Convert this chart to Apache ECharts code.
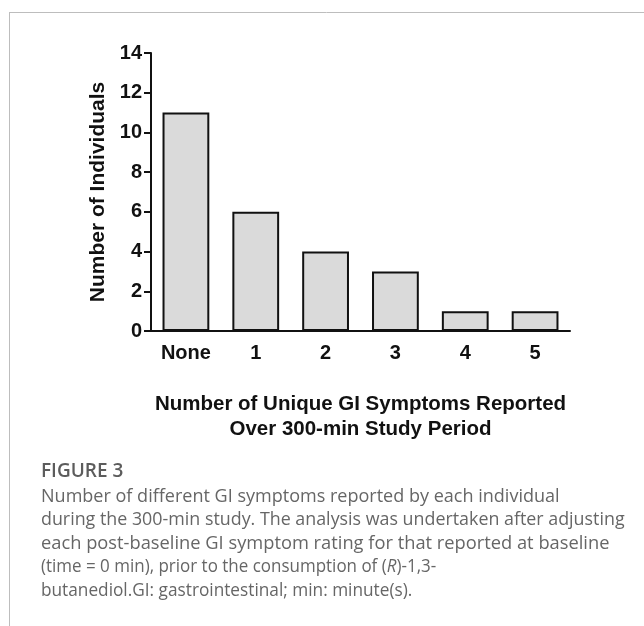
<!DOCTYPE html>
<html>
<head>
<meta charset="utf-8">
<style>
  html, body { margin: 0; padding: 0; background: #fff; }
  #chart { width: 644px; height: 626px; }
</style>
<script src="https://cdn.jsdelivr.net/npm/echarts@6/dist/echarts.min.js"></script>
</head>
<body>
<div id="chart"></div>
<script>
// Number of unique GI symptoms per participant
var categories = ['None', '1', '2', '3', '4', '5'];
var individuals = [11, 6, 4, 3, 1, 1];
var yTicks = [0, 2, 4, 6, 8, 10, 12, 14];

var captionTitle = 'FIGURE 3';
var captionLines = [
  'Number of different GI symptoms reported by each individual',
  'during the 300-min study. The analysis was undertaken after adjusting',
  'each post-baseline GI symptom rating for that reported at baseline',
  '(time = 0 min), prior to the consumption of ({i|R})-1,3-',
  'butanediol.GI: gastrointestinal; min: minute(s).'
];

var chart = echarts.init(document.getElementById('chart'), null, { renderer: 'canvas' });

var axisFont = 'Liberation Sans, Arial, sans-serif';
var capFont = '"Open Sans", "Noto Sans", sans-serif';
// per-line horizontal fit of the justified caption block
var captionFit = [1.03, 1.02, 1.045, 0.97, 0.985];

var graphics = [
  // panel frame: top and left rules
  { type: 'line', shape: { x1: 9, y1: 12.5, x2: 644, y2: 12.5 }, style: { stroke: '#bdbdbd', lineWidth: 1 } },
  { type: 'line', shape: { x1: 9.5, y1: 12, x2: 9.5, y2: 626 }, style: { stroke: '#bdbdbd', lineWidth: 1 } },
  {
    type: 'text', x: 41, y: 462,
    style: { text: captionTitle, font: '600 19px ' + capFont, fill: '#5c5c5c' }
  }
];
captionLines.forEach(function (line, i) {
  graphics.push({
    type: 'text', x: 41, y: 488 + i * 23.4,
    scaleX: captionFit[i],
    style: {
      text: line, font: '17.5px ' + capFont, fill: '#666',
      rich: { i: { font: 'italic 17.5px ' + capFont, fill: '#666' } }
    }
  });
});

chart.setOption({
  animation: false,
  backgroundColor: '#fff',
  grid: { left: 151, right: 74, top: 53, bottom: 295, containLabel: false },
  xAxis: {
    type: 'category',
    data: categories,
    name: 'Number of Unique GI Symptoms Reported\nOver 300-min Study Period',
    nameLocation: 'middle',
    nameGap: 61,
    nameTextStyle: { fontFamily: axisFont, fontWeight: 'bold', fontSize: 20.5, color: '#111', lineHeight: 25 },
    axisLine: { lineStyle: { color: '#111', width: 2 } },
    axisTick: { show: false },
    axisLabel: { fontFamily: axisFont, fontWeight: 'bold', fontSize: 20, color: '#111', margin: 12 }
  },
  yAxis: {
    type: 'value',
    min: 0, max: 14, interval: 2,
    name: 'Number of Individuals',
    nameLocation: 'middle',
    nameGap: 41,
    nameTextStyle: { fontFamily: axisFont, fontWeight: 'bold', fontSize: 21, color: '#111' },
    axisLine: { show: true, lineStyle: { color: '#111', width: 2 } },
    axisTick: { show: true, length: 7, lineStyle: { color: '#111', width: 2 } },
    splitLine: { show: false },
    axisLabel: {
      fontFamily: axisFont, fontWeight: 'bold', fontSize: 20, color: '#111', margin: 9,
      formatter: function (v) { return yTicks.indexOf(v) >= 0 ? String(v) : ''; }
    }
  },
  series: [{
    type: 'bar',
    data: individuals,
    barWidth: '67%',
    itemStyle: { color: '#dadada', borderColor: '#111', borderWidth: 2 }
  }],
  graphic: graphics
});
</script>
</body>
</html>
